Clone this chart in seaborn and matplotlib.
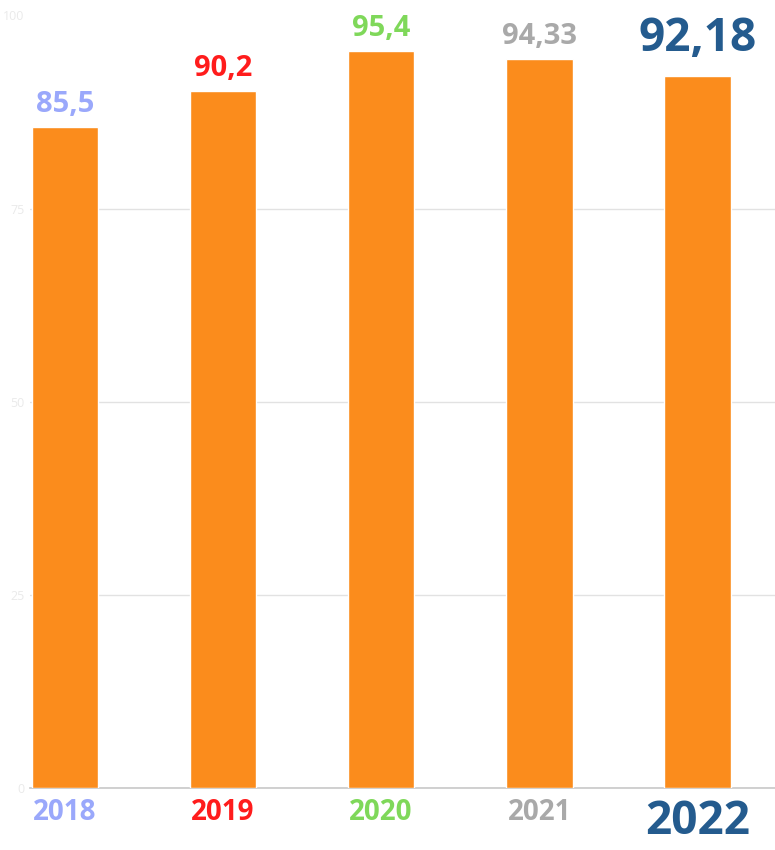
import matplotlib
matplotlib.use("Agg")
import matplotlib.pyplot as plt
import seaborn as sns
import pandas as pd

years = ["2018", "2019", "2020", "2021", "2022"]
values = [85.5, 90.2, 95.4, 94.33, 92.18]
value_labels = ["85,5", "90,2", "95,4", "94,33", "92,18"]
label_colors = ["#9aa8fb", "#ff1c1c", "#7fd85a", "#a9a9a9", "#245b8e"]
y_ticks = [0, 25, 50, 75, 100]

sns.set_theme(style="white")
plt.rcParams["font.family"] = ["Open Sans", "DejaVu Sans"]

df = pd.DataFrame({"Year": years, "Value": values})

fig = plt.figure(figsize=(7.75, 8.5), dpi=100)
ax = fig.add_axes([30 / 775, 62 / 850, 745 / 775, 788 / 850])

sns.barplot(data=df, x="Year", y="Value", color="#fb8c1c", saturation=1,
            width=0.42, ax=ax, zorder=3)

ax.set_xlim(-0.22, 4.49)
ax.set_ylim(0, 102)
ax.set_yticks(y_ticks)
ax.set_yticklabels([str(t) for t in y_ticks], color="#eaeaea", fontsize=9)
ax.tick_params(axis="y", length=0, pad=4)
ax.grid(axis="y", color="#e2e2e2", linewidth=1, zorder=0)
ax.yaxis.get_gridlines()[-1].set_visible(False)
ax.set_xlabel("")
ax.set_ylabel("")
for s in ["top", "right", "left"]:
    ax.spines[s].set_visible(False)
ax.spines["bottom"].set_color("#c8c8c8")
ax.spines["bottom"].set_linewidth(1.2)

# value labels above bars
for i, (v, lab, c) in enumerate(zip(values, value_labels, label_colors)):
    big = i == len(values) - 1
    ax.annotate(lab, (i, v), xytext=(0, 10 if big else 6), textcoords="offset points",
                ha="center", va="bottom", color=c, fontweight="bold",
                fontsize=33 if big else 21, zorder=5)

# coloured year labels
ax.tick_params(axis="x", length=0, pad=7)
for i, t in enumerate(ax.get_xticklabels()):
    t.set_color(label_colors[i])
    t.set_fontweight("bold")
    t.set_fontsize(33 if i == len(years) - 1 else 20)

fig.savefig("out.png", dpi=100)
